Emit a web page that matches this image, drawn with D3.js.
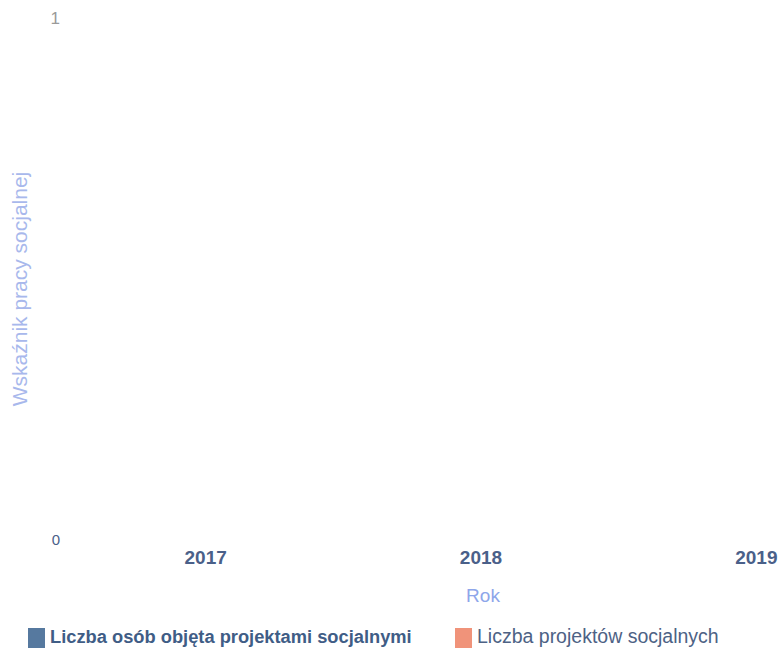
<!DOCTYPE html>
<meta charset="utf-8">
<html>
  <head>
    <script src="https://d3js.org/d3.v7.min.js"></script>
    <style>
      body { margin: 0; background: #fff; }
      text { font-family: "Liberation Sans", Arial, sans-serif; }
    </style>
  </head>
  <body>
    <div id="chart"></div>

    <script type="text/javascript">
      var years = ["2017", "2018", "2019"],
          osoby = [0, 0, 0],
          projekty = [0, 0, 0],
          yTicks = [0, 1],
          seriesNames = ["Liczba osób objęta projektami socjalnymi", "Liczba projektów socjalnych"],
          seriesColors = ["#56799f", "#f0937a"];

      var width = 784, height = 654;

      var svg = d3.select("#chart").append("svg")
          .attr("width", width)
          .attr("height", height);

      // x band runs past the right edge, like the original
      var x = d3.scaleBand().domain(years).range([68, 894]);
      var xs = d3.scaleBand().domain([0, 1]).range([0, x.bandwidth()]).paddingInner(0.1).paddingOuter(0.4);
      var y = d3.scaleLinear().domain([0, 1]).range([540, 18]);

      // y ticks
      svg.selectAll(".ytick")
        .data(yTicks)
        .enter().append("text")
          .attr("class", "ytick")
          .attr("x", 60)
          .attr("y", function(d) { return y(d); })
          .attr("dy", "0.35em")
          .style("text-anchor", "end")
          .style("font-size", function(d) { return d === 0 ? "15px" : "17px"; })
          .style("fill", function(d) { return d === 0 ? "#4a6089" : "#9a9a9a"; })
          .text(function(d) { return d; });

      // x ticks
      svg.selectAll(".xtick")
        .data(years)
        .enter().append("text")
          .attr("class", "xtick")
          .attr("x", function(d) { return x(d) + x.bandwidth() / 2; })
          .attr("y", 564)
          .style("text-anchor", "middle")
          .style("font-size", "19px")
          .style("font-weight", "bold")
          .style("fill", "#4a6089")
          .text(function(d) { return d; });

      // bars (all zero)
      var groups = svg.selectAll(".year")
          .data(years)
          .enter().append("g")
          .attr("transform", function(d) { return "translate(" + x(d) + ",0)"; });

      groups.append("rect")
          .attr("x", xs(0))
          .attr("width", xs.bandwidth())
          .attr("y", function(d, i) { return y(osoby[i]); })
          .attr("height", function(d, i) { return y(0) - y(osoby[i]); })
          .style("fill", seriesColors[0]);

      groups.append("rect")
          .attr("x", xs(1))
          .attr("width", xs.bandwidth())
          .attr("y", function(d, i) { return y(projekty[i]); })
          .attr("height", function(d, i) { return y(0) - y(projekty[i]); })
          .style("fill", seriesColors[1]);

      // axis titles
      svg.append("text")
          .attr("transform", "translate(27,289) rotate(-90)")
          .style("text-anchor", "middle")
          .style("font-size", "21px")
          .style("fill", "#a8b8ec")
          .text("Wskaźnik pracy socjalnej");

      svg.append("text")
          .attr("x", 483)
          .attr("y", 602)
          .style("text-anchor", "middle")
          .style("font-size", "19px")
          .style("fill", "#8ea6ea")
          .text("Rok");

      // legend
      var legendX = [28, 455];
      var legend = svg.selectAll(".legend")
          .data(seriesNames)
          .enter().append("g")
          .attr("transform", function(d, i) { return "translate(" + legendX[i] + ",628)"; });

      legend.append("rect")
          .attr("width", 17)
          .attr("height", 20)
          .style("fill", function(d, i) { return seriesColors[i]; });

      legend.append("text")
          .attr("x", 22)
          .attr("y", 15)
          .style("font-size", function(d, i) { return i === 0 ? "18.3px" : "19.5px"; })
          .style("font-weight", function(d, i) { return i === 0 ? "bold" : "normal"; })
          .style("fill", function(d, i) { return i === 0 ? "#3f5d86" : "#4d6285"; })
          .text(function(d) { return d; });
    </script>
  </body>
</html>
